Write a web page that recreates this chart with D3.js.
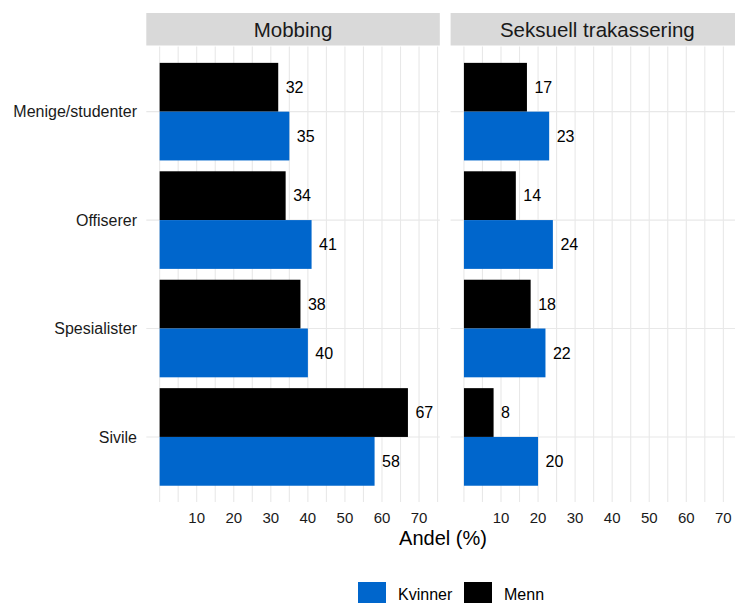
<!DOCTYPE html>
<html>
<head>
<meta charset="utf-8">
<script src="https://cdn.jsdelivr.net/npm/d3@7"></script>
<style>
  body { margin: 0; background: #fff; }
  svg { display: block; font-family: "Liberation Sans", Arial, sans-serif; }
</style>
</head>
<body>
<div id="chart"></div>
<script>
// data
const categories = ["Menige/studenter", "Offiserer", "Spesialister", "Sivile"];
const panels = ["Mobbing", "Seksuell trakassering"];
const groups = ["Menn", "Kvinner"];
const mobbingMenn = [32, 34, 38, 67];
const mobbingKvinner = [35, 41, 40, 58];
const seksuellMenn = [17, 14, 18, 8];
const seksuellKvinner = [23, 24, 22, 20];
const tickValues = [10, 20, 30, 40, 50, 60, 70];
const gridValues = d3.range(0, 80, 5);

const colors = { Kvinner: "#0066CC", Menn: "#000000" };

const panelData = [
  { name: panels[0], Menn: mobbingMenn, Kvinner: mobbingKvinner },
  { name: panels[1], Menn: seksuellMenn, Kvinner: seksuellKvinner }
];

const width = 735;
const height = 603;
const panelW = 293.5;
const panelLefts = [146.3, 450.6];
const stripTop = 13, stripBottom = 45.5;
const panelTop = 46.6, panelBottom = 502;

const svg = d3.select("#chart")
  .append("svg")
  .attr("width", width)
  .attr("height", height);

const y = d3.scaleBand()
  .domain(categories)
  .range([panelTop, panelBottom])
  .paddingInner(0.1)
  .paddingOuter(0.15);

const ySub = d3.scaleBand()
  .domain(groups)
  .range([0, y.bandwidth()]);

panelData.forEach((p, pi) => {
  const left = panelLefts[pi];
  const x = d3.scaleLinear()
    .domain([-3.6, 75.6])
    .range([left, left + panelW]);

  const g = svg.append("g");

  // strip
  g.append("rect")
    .attr("x", left)
    .attr("y", stripTop)
    .attr("width", panelW)
    .attr("height", stripBottom - stripTop)
    .attr("fill", "#d9d9d9");

  g.append("text")
    .attr("x", left + panelW / 2)
    .attr("y", 36.7)
    .attr("text-anchor", "middle")
    .attr("fill", "#1a1a1a")
    .style("font-size", "20.5px")
    .text(p.name);

  // grid
  g.selectAll(".vgrid")
    .data(gridValues)
    .enter()
    .append("line")
    .attr("x1", d => x(d))
    .attr("x2", d => x(d))
    .attr("y1", panelTop)
    .attr("y2", panelBottom)
    .attr("stroke", "#e8e8e8")
    .attr("stroke-width", 1.1);

  g.selectAll(".hgrid")
    .data(categories)
    .enter()
    .append("line")
    .attr("x1", left)
    .attr("x2", left + panelW)
    .attr("y1", d => y(d) + y.bandwidth() / 2)
    .attr("y2", d => y(d) + y.bandwidth() / 2)
    .attr("stroke", "#e8e8e8")
    .attr("stroke-width", 1.1);

  // bars
  groups.forEach(grp => {
    const vals = p[grp];
    g.selectAll(".bar-" + grp)
      .data(categories)
      .enter()
      .append("rect")
      .attr("x", x(0))
      .attr("y", d => y(d) + ySub(grp))
      .attr("width", (d, i) => x(vals[i]) - x(0))
      .attr("height", ySub.bandwidth())
      .attr("fill", colors[grp]);

    g.selectAll(".lab-" + grp)
      .data(categories)
      .enter()
      .append("text")
      .attr("x", (d, i) => x(vals[i]) + 7.5)
      .attr("y", d => y(d) + ySub(grp) + ySub.bandwidth() / 2 + 5.8)
      .attr("fill", "#000")
      .style("font-size", "16px")
      .text((d, i) => vals[i]);
  });

  // x ticks
  g.selectAll(".tick-lab")
    .data(tickValues)
    .enter()
    .append("text")
    .attr("x", d => x(d))
    .attr("y", 522.5)
    .attr("text-anchor", "middle")
    .attr("fill", "#1a1a1a")
    .style("font-size", "15px")
    .text(d => d);
});

// y labels
svg.selectAll(".ylab")
  .data(categories)
  .enter()
  .append("text")
  .attr("x", 137)
  .attr("y", d => y(d) + y.bandwidth() / 2 + 5.8)
  .attr("text-anchor", "end")
  .attr("fill", "#1a1a1a")
  .style("font-size", "16px")
  .text(d => d);

// axis title
svg.append("text")
  .attr("x", 443)
  .attr("y", 545)
  .attr("text-anchor", "middle")
  .attr("fill", "#000")
  .style("font-size", "20px")
  .text("Andel (%)");

// legend
const legendItems = [
  { key: "Kvinner", x: 358 },
  { key: "Menn", x: 464 }
];
const lg = svg.append("g");
legendItems.forEach(item => {
  lg.append("rect")
    .attr("x", item.x)
    .attr("y", 582)
    .attr("width", 28)
    .attr("height", 28)
    .attr("fill", colors[item.key]);
  lg.append("text")
    .attr("x", item.x + 40)
    .attr("y", 599.5)
    .attr("fill", "#000")
    .style("font-size", "16px")
    .text(item.key);
});
</script>
</body>
</html>
